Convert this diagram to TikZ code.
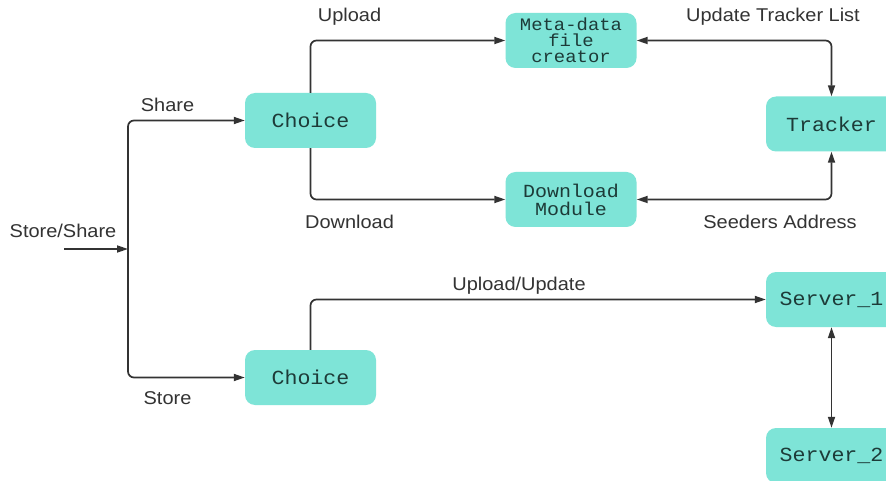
\documentclass[tikz,border=0pt]{standalone}
\usepackage{fontspec}
\setmainfont{Liberation Sans}[FakeStretch=1.08]
\newfontfamily\boxfont{Liberation Mono}[FakeStretch=1.08]
\usetikzlibrary{arrows.meta}
\definecolor{boxfill}{HTML}{7EE4D7}
\definecolor{boxtext}{HTML}{1D3B38}
\definecolor{linec}{HTML}{333333}
\definecolor{labeltext}{HTML}{333333}
\tikzset{
  >={Triangle[length=11pt,width=7pt]},
  box/.style={fill=boxfill, rounded corners=10pt, minimum width=131pt, minimum height=55pt,
    inner sep=0pt, font=\boxfont\fontsize{20}{22}\selectfont, text=boxtext, align=center},
  conn/.style={draw=linec, line width=1.7pt, rounded corners=6pt, ->},
  biconn/.style={draw=linec, line width=1.7pt, rounded corners=6pt, <->},
  lbl/.style={font=\fontsize{18.5}{22}\selectfont, text=labeltext, inner sep=0pt}
}
\begin{document}
\begin{tikzpicture}[x=1pt,y=-1pt]
\path[use as bounding box, clip] (0,0) rectangle (886,481);
\fill[white] (0,0) rectangle (886,481);
% boxes
\node[box] (c1) at (310.5,120.5) {Choice};
\node[box] (c2) at (310.5,377.5) {Choice};
\node[box, font=\boxfont\fontsize{17.5}{16}\selectfont] (meta) at (571,40.5) {Meta-data\\file\\creator};
\node[box, font=\boxfont\fontsize{18.5}{18}\selectfont] (dl) at (571,199.5) {Download\\Module};
\node[box] (tr) at (831.5,124) {Tracker};
\node[box] (s1) at (831.5,299.5) {Server\_1};
\node[box] (s2) at (831.5,455.5) {Server\_2};
% connectors
\coordinate (in) at (64,249);
\coordinate (j) at (128,249);
\draw[conn] (in) -- (j);
\draw[conn] (j) |- (c1.west);
\draw[conn] (j) |- (c2.west);
\draw[conn] (c1.north) |- (meta.west);
\draw[conn] (c1.south) |- (dl.west);
\draw[biconn] (meta.east) -| (tr.north);
\draw[biconn] (dl.east) -| (tr.south);
\draw[conn] (c2.north) |- (s1.west);
\draw[biconn] (s1.south) -- (s2.north);
% labels
\node[lbl] (lss) at (63,231) {Store/Share};
\node[lbl] (lsh) at (167.5,105) {Share};
\node[lbl] (lst) at (167.5,398) {Store};
\node[lbl] (lup) at (349.5,17) {Upload};
\node[lbl] (ldl) at (349.5,222) {Download};
\node[lbl] (lutl) at (773,17) {Update Tracker List};
\node[lbl] (lsa) at (780,222) {Seeders Address};
\node[lbl] (luu) at (519,286) {Upload/Update};
\end{tikzpicture}
\end{document}
